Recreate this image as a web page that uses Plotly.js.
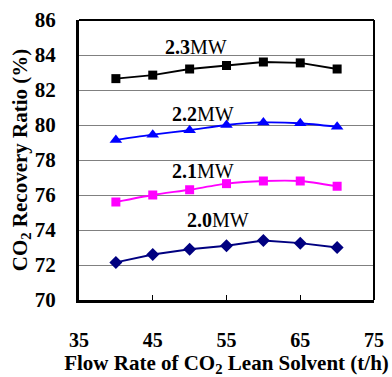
<!DOCTYPE html>
<html>
<head>
<meta charset="utf-8">
<script src="https://cdn.plot.ly/plotly-3.0.1.min.js"></script>
<style>html,body{margin:0;padding:0;background:#fff;}#chart{width:392px;height:377px;}</style>
</head>
<body>
<div id="chart"></div>
<script>
const flowRate = [40, 45, 50, 55, 60, 65, 70];
const mw23 = [82.65, 82.85, 83.2, 83.4, 83.6, 83.55, 83.2];
const mw22 = [79.15, 79.45, 79.7, 80.0, 80.15, 80.1, 79.9];
const mw21 = [75.6, 76.0, 76.3, 76.65, 76.8, 76.8, 76.5];
const mw20 = [72.15, 72.6, 72.9, 73.1, 73.4, 73.25, 73.0];
const seriesNames = ["2.3MW", "2.2MW", "2.1MW", "2.0MW"];
const xTicks = [35, 45, 55, 65, 75];
const yTicks = [70, 72, 74, 76, 78, 80, 82, 84, 86];

const serif = "Liberation Serif";

const traces = [
  {x: flowRate, y: mw23, name: seriesNames[0], mode: "lines+markers",
   line: {color: "#000000", width: 1.8}, marker: {symbol: "square", size: 9, color: "#000000"}},
  {x: flowRate, y: mw22, name: seriesNames[1], mode: "lines+markers",
   line: {color: "#0000ff", width: 1.8, shape: "spline", smoothing: 0.6}, marker: {symbol: "triangle-up", size: 11, color: "#0000ff"}},
  {x: flowRate, y: mw21, name: seriesNames[2], mode: "lines+markers",
   line: {color: "#ff00ff", width: 1.8, shape: "spline", smoothing: 0.6}, marker: {symbol: "square", size: 9, color: "#ff00ff"}},
  {x: flowRate, y: mw20, name: seriesNames[3], mode: "lines+markers",
   line: {color: "#000080", width: 1.8}, marker: {symbol: "diamond", size: 10, color: "#000080"}}
];

const labelPos = [[50.9, 84.44], [51.8, 80.64], [51.8, 77.35], [53.8, 74.58]];

const layout = {
  width: 392, height: 377,
  margin: {l: 79, r: 18, t: 20, b: 77},
  paper_bgcolor: "#ffffff", plot_bgcolor: "#ffffff",
  showlegend: false,
  font: {family: serif, color: "#000000"},
  xaxis: {
    range: [35, 75], tickvals: xTicks, ticktext: xTicks.map(v => "<b>" + v + "</b>"),
    ticks: "inside", ticklen: 5, tickwidth: 1, tickcolor: "#000",
    showgrid: false, zeroline: false,
    showline: true, linewidth: 3, linecolor: "#000",
    tickfont: {family: serif, size: 20, color: "#000"},
    ticklabelstandoff: 20,
    title: {text: "<b>Flow Rate of CO<sub>2</sub> Lean Solvent (t/h)</b>", font: {family: serif, size: 21, color: "#000"}, standoff: 9}
  },
  yaxis: {
    range: [70, 86], tickvals: yTicks, ticktext: yTicks.map(v => "<b>" + v + "</b>"),
    ticks: "", showgrid: true, gridcolor: "#808080", gridwidth: 1, zeroline: false,
    showline: true, linewidth: 3, linecolor: "#000",
    tickfont: {family: serif, size: 21, color: "#000"},
    ticklabelstandoff: 16,
    title: {text: "<b>CO<sub>2</sub> Recovery Ratio (%)</b>", font: {family: serif, size: 21, color: "#000"}, standoff: 2}
  },
  shapes: [
    {type: "line", xref: "paper", yref: "paper", x0: 0, x1: 1, y0: 1, y1: 1, line: {color: "#000", width: 2}},
    {type: "line", xref: "paper", yref: "paper", x0: 1, x1: 1, y0: 0, y1: 1, line: {color: "#000", width: 2}}
  ],
  annotations: seriesNames.map((n, i) => ({
    x: labelPos[i][0], y: labelPos[i][1], xref: "x", yref: "y",
    text: "<b>" + n.replace("MW", "") + "</b>MW", showarrow: false,
    font: {family: serif, size: 20, color: "#000"}
  }))
};

Plotly.newPlot("chart", traces, layout, {displayModeBar: false, staticPlot: true});
</script>
</body>
</html>
